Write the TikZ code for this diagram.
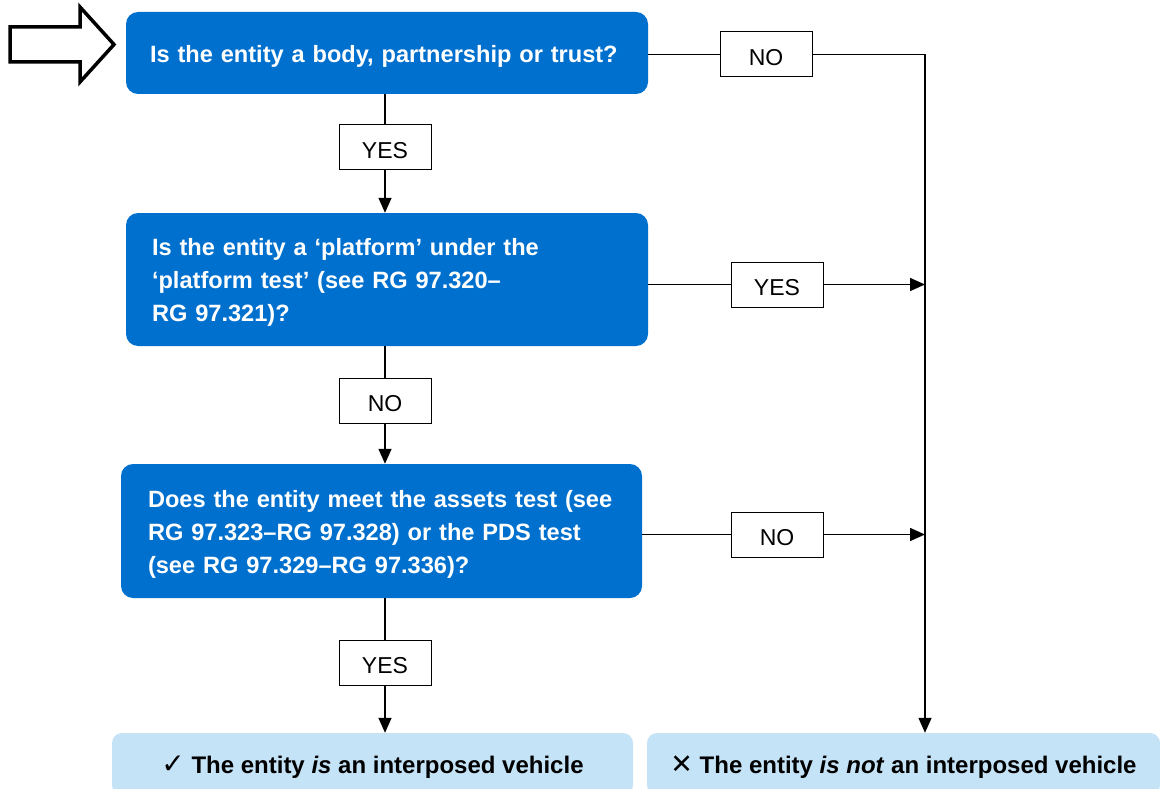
\documentclass[tikz,border=0pt]{standalone}
\usepackage{fontspec}
\setmainfont{Liberation Sans}
\newfontfamily\symfont{DejaVu Sans}
\usepackage{xcolor}
\usepackage{tikz}
\usetikzlibrary{calc}
\usetikzlibrary{arrows.meta}
\definecolor{qblue}{RGB}{0,112,206}
\definecolor{rblue}{RGB}{197,227,247}
\tikzstyle{qnode}=[fill=qblue, draw=none, rounded corners=12pt, text=white, font=\fontsize{23.6}{33}\selectfont\bfseries, align=left, inner sep=0pt, execute at begin node={\noindent\rule{0pt}{23.5pt}}]
\tikzstyle{ansnode}=[draw=black, line width=1pt, fill=white, minimum width=92pt, minimum height=45pt, font=\fontsize{23}{26}\selectfont, inner sep=0pt, text height=22pt, text depth=0pt]
\tikzstyle{resnode}=[fill=rblue, draw=none, rounded corners=10pt, minimum height=62pt, font=\fontsize{24}{26}\selectfont\bfseries, inner sep=0pt, text height=23.5pt, text depth=5pt]
\tikzstyle{link}=[line width=1.5pt, color=black]
\tikzstyle{flow}=[-{Triangle[length=15pt, width=13pt]}, line width=1.5pt, color=black]

\begin{document}
\begin{tikzpicture}[x=1pt, y=-1pt]
\useasboundingbox (0,0) rectangle (1160,789);

% hollow start arrow
\draw[line width=3.5pt, line join=miter] (10,27) -- (80,27) -- (80,7) -- (114,44.5) -- (80,82) -- (80,62) -- (10,62) -- cycle;

% questions
\node [qnode, minimum width=522pt, minimum height=82pt, text width=474pt] (q1) at (387,53) {Is the entity a body, partnership or trust?};
\node [qnode, minimum width=522pt, minimum height=133pt, text width=470pt] (q2) at (387,279.5) {Is the entity a `platform' under the\\`platform test' (see RG 97.320--\\RG 97.321)?};
\node [qnode, minimum width=521pt, minimum height=134pt, text width=467pt] (q3) at (381.5,531) {Does the entity meet the assets test (see\\RG 97.323--RG 97.328) or the PDS test\\(see RG 97.329--RG 97.336)?};

% results
\node [resnode, minimum width=521pt] (res1) at (372.5,764) {{\symfont\fontsize{28}{28}\selectfont\char"2713}\ The entity \textit{is} an interposed vehicle};
\node [resnode, minimum width=513pt] (res2) at (903.5,764) {{\symfont\fontsize{27}{27}\selectfont\char"2715}\ The entity \textit{is not} an interposed vehicle};

\coordinate (rail) at (925,0);

% answer labels
\node [ansnode] (yes1) at (385,147.5) {YES};
\node [ansnode] (no2) at (385,400.5) {NO};
\node [ansnode] (yes3) at (385,662.5) {YES};
\node [ansnode] (no1) at (766,54.5) {NO};
\node [ansnode] (yes2) at (777,284.5) {YES};
\node [ansnode] (no3) at (777,534.5) {NO};

% down the left
\draw[link] (yes1 |- q1.south) -- (yes1.north);
\draw[flow] (yes1.south) -- (yes1 |- q2.north);
\draw[link] (no2 |- q2.south) -- (no2.north);
\draw[flow] (no2.south) -- (no2 |- q3.north);
\draw[link] (yes3 |- q3.south) -- (yes3.north);
\draw[flow] (yes3.south) -- (yes3 |- res1.north);

% to the right
\draw[link] (q1.east |- no1) -- (no1.west);
\draw[flow] (no1.east) -- (no1.east -| rail) -- (rail |- res2.north);
\draw[link] (q2.east |- yes2) -- (yes2.west);
\draw[flow] (yes2.east) -- (yes2.east -| rail);
\draw[link] (q3.east |- no3) -- (no3.west);
\draw[flow] (no3.east) -- (no3.east -| rail);
\end{tikzpicture}
\end{document}
